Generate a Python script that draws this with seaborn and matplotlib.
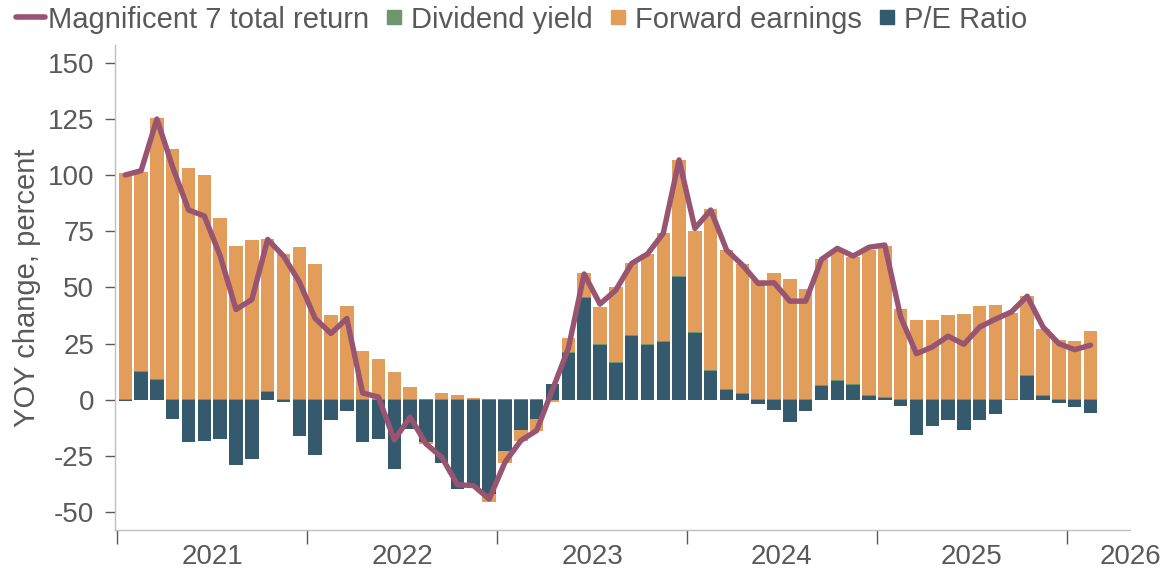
import numpy as np
import pandas as pd
import matplotlib
matplotlib.use("Agg")
import matplotlib.pyplot as plt
from matplotlib.lines import Line2D
import seaborn as sns

# monthly data, Jan 2021 .. Feb 2026 (YOY change, percent)
months = pd.period_range("2021-01", periods=62, freq="M").strftime("%Y-%m")

pe_ratio = [-0.5, 12.5, 8.9, -8.5, -18.9, -18.5, -17.3, -28.9, -26.3, 3.6, -1.0, -16.1,
            -24.4, -8.9, -4.8, -18.9, -17.4, -30.8, -12.9, -18.9, -28.0, -39.7, -39.5, -42.0,
            -22.9, -13.7, -8.8, 6.8, 20.8, 45.2, 24.4, 16.4, 28.3, 24.4, 25.6, 54.8,
            29.8, 12.8, 4.2, 2.4, -1.8, -4.5, -10.0, -5.0, 6.1, 8.2, 6.4, 1.5,
            0.7, -3.0, -15.5, -11.9, -8.9, -13.7, -9.2, -6.5, 0.0, 10.4, 1.5, -1.5,
            -3.3, -6.0]

dividend_yield = [0.4, 0.4, 0.4, 0.4, 0.4, 0.4, 0.4, 0.4, 0.4, 0.4, 0.4, 0.4,
                  0.4, 0.4, 0.4, 0.4, 0.4, 0.4, 0.4, 0.4, 0.4, 0.4, 0.4, 0.4,
                  0.4, 0.4, 0.4, 0.4, 0.4, 0.4, 0.4, 0.4, 0.4, 0.4, 0.4, 0.4,
                  0.4, 0.4, 0.4, 0.4, 0.4, 0.4, 0.4, 0.4, 0.4, 0.4, 0.4, 0.4,
                  0.4, 0.4, 0.4, 0.4, 0.4, 0.4, 0.4, 0.4, 0.4, 0.4, 0.4, 0.4,
                  0.4, 0.4]

forward_earnings = [100.5, 88.6, 116.1, 111.2, 102.7, 99.6, 80.4, 68.2, 70.6, 67.6, 64.3, 67.6,
                    60.0, 37.2, 41.4, 21.2, 17.6, 12.0, 5.1, -1.0, 2.7, 1.5, 0.5, -3.4,
                    -5.2, -4.5, -5.2, -1.0, 6.5, 10.7, 16.6, 33.5, 32.0, 39.9, 48.1, 51.6,
                    45.1, 71.6, 62.1, 57.6, 52.9, 56.1, 53.2, 48.7, 56.0, 58.4, 56.9, 65.0,
                    67.4, 40.2, 35.3, 35.3, 37.2, 37.7, 41.3, 41.7, 38.3, 35.3, 29.8, 26.1,
                    25.6, 30.3]

total_return = [100.1, 102.0, 125.0, 103.5, 84.5, 81.8, 64.0, 40.2, 44.6, 71.4, 64.0, 52.5,
                36.2, 29.5, 36.2, 3.0, 1.2, -17.9, -7.7, -19.6, -25.6, -37.9, -38.2, -44.2,
                -27.8, -18.2, -13.7, 4.5, 22.8, 56.0, 42.6, 48.8, 60.7, 64.9, 74.1, 106.8,
                76.3, 84.5, 66.7, 60.0, 51.8, 52.1, 43.9, 43.9, 62.5, 67.4, 64.0, 67.9,
                68.9, 36.9, 20.5, 23.5, 28.3, 24.7, 32.4, 35.9, 39.1, 46.1, 32.4, 25.0,
                22.3, 24.3]

year_labels = ["2021", "2022", "2023", "2024", "2025", "2026"]
y_ticks = [-50, -25, 0, 25, 50, 75, 100, 125, 150]

c_line = "#985470"
c_div = "#6E966E"
c_fwd = "#E39D5B"
c_pe = "#35596D"
c_text = "#595959"

sns.set_style("white")
plt.rcParams["font.family"] = ["Liberation Sans", "DejaVu Sans"]

pe = np.array(pe_ratio)
div = np.array(dividend_yield)
fe = np.array(forward_earnings)
pos_base = np.clip(pe, 0, None)
neg_base = np.clip(pe, None, 0)
fe_bottom = np.where(fe >= 0, pos_base + div, neg_base)

fig = plt.figure(figsize=(11.65, 5.74), dpi=100)
ax = fig.add_axes([0.0987, 0.0767, 0.8713, 0.845])

bar_kw = dict(width=0.85, saturation=1, errorbar=None, linewidth=0, ax=ax)
sns.barplot(x=months, y=pe, color=c_pe, **bar_kw)
sns.barplot(x=months, y=div, color=c_div, bottom=pos_base, **bar_kw)
sns.barplot(x=months, y=fe, color=c_fwd, bottom=fe_bottom, **bar_kw)
sns.lineplot(x=np.arange(len(months)), y=total_return, color=c_line, linewidth=3.9, ax=ax)

ax.set_xlim(-0.65, 63.5)
ax.set_ylim(-58, 158)
ax.set_yticks(y_ticks)
ax.set_yticklabels([str(v) for v in y_ticks])

year_edges = np.arange(6) * 12 - 0.5
ax.set_xticks(year_edges)
ax.set_xticklabels([""] * len(year_edges))
ax.set_xticks(list(year_edges[:5] + 6) + [63.5], minor=True)
ax.set_xticklabels(year_labels, minor=True)
ax.tick_params(axis="x", which="major", bottom=True, length=10, width=1, color=c_text, direction="out")
ax.tick_params(axis="x", which="minor", bottom=True, length=0, pad=10, labelsize=20, labelcolor=c_text)
ax.tick_params(axis="y", left=True, length=7, width=1, color=c_text, pad=8, labelsize=20, labelcolor=c_text)

ax.set_xlabel("")
ax.set_ylabel("YOY change, percent", fontsize=21, color=c_text, labelpad=5)

for side in ["top", "right"]:
    ax.spines[side].set_visible(False)
for side in ["left", "bottom"]:
    ax.spines[side].set_color("#BFBFBF")
    ax.spines[side].set_linewidth(1)

handles = [
    Line2D([], [], color=c_line, linewidth=4),
    Line2D([], [], color=c_div, marker="s", markersize=10, linestyle="none"),
    Line2D([], [], color=c_fwd, marker="s", markersize=10, linestyle="none"),
    Line2D([], [], color=c_pe, marker="s", markersize=10, linestyle="none"),
]
labels = ["Magnificent 7 total return", "Dividend yield", "Forward earnings", "P/E Ratio"]
fig.legend(handles, labels, loc="upper left", bbox_to_anchor=(-0.009, 1.036), ncol=4,
           frameon=False, fontsize=21, handlelength=1.0, handletextpad=0.1,
           columnspacing=0.35, labelcolor=c_text)

fig.savefig("out.png", dpi=100)
